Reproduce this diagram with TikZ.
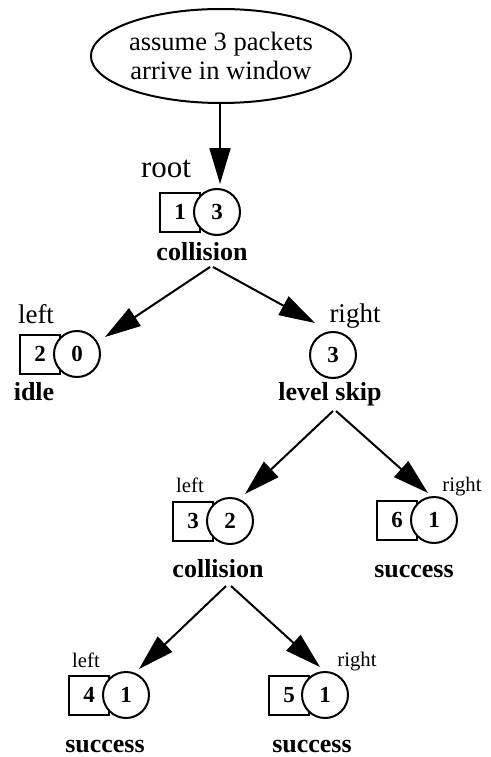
\documentclass[tikz,border=0pt]{standalone}
\usepackage{fontspec}
\setmainfont{Liberation Serif}
\usetikzlibrary{arrows.meta,shapes.geometric}
\newcommand\numfont{\fontsize{23}{23}\selectfont\bfseries}
\newcommand\statefont{\fontsize{26}{26}\selectfont\bfseries}
\newcommand\sidebig{\fontsize{27}{27}\selectfont}
\newcommand\sidesmall{\fontsize{20.7}{20.7}\selectfont}
\begin{document}
\begin{tikzpicture}[x=1pt,y=-1pt,
  every node/.style={inner sep=0pt},
  ring/.style={circle,draw,line width=2pt,fill=white,minimum size=46pt,font=\numfont},
  box/.style={rectangle,draw,line width=2pt,fill=white,minimum width=40pt,minimum height=39pt,font=\numfont},
  statelbl/.style={anchor=base,font=\statefont},
  sidelbl/.style={anchor=base,font=\sidebig},
  sidesm/.style={anchor=base,font=\sidesmall},
  edge/.style={line width=2pt,-{Triangle[length=36pt,width=21pt]}}]
\useasboundingbox (0,0) rectangle (490,757);

% start ellipse
\node[ellipse,draw,line width=2pt,minimum width=255pt,minimum height=94pt,
      align=center,font=\fontsize{26.5}{29}\selectfont] (start) at (221,56)
  {assume 3 packets\\arrive in window};

% root
\node[box] (sq1) at (180,212) {1};
\node[ring] (c1) at (217,212) {3};
\node[sidelbl,font=\fontsize{31}{31}\selectfont] (lroot) at (166,177) {root};
\node[statelbl] (s1) at (202,260) {collision};

% level 1
\node[box] (sq2) at (40,354) {2};
\node[ring] (c2) at (77,354) {0};
\node[sidelbl] (lleft1) at (36,323) {left};
\node[statelbl] (s2) at (34,400) {idle};

\node[ring] (c3) at (333,355) {3};
\node[sidelbl] (lright1) at (355,322) {right};
\node[statelbl] (s3) at (330,400) {level skip};

% level 2
\node[box] (sq4) at (193,521) {3};
\node[ring] (c4) at (230,521) {2};
\node[sidesm] (lleft2) at (190,492) {left};
\node[statelbl] (s4) at (218,577) {collision};

\node[box] (sq5) at (397,520) {6};
\node[ring] (c5) at (434,520) {1};
\node[sidesm] (lright2) at (462,491) {right};
\node[statelbl] (s5) at (414,577) {success};

% level 3
\node[box] (sq6) at (89,695) {4};
\node[ring] (c6) at (126,695) {1};
\node[sidesm] (lleft3) at (86,667) {left};
\node[statelbl] (s6) at (105,752) {success};

\node[box] (sq7) at (289,695) {5};
\node[ring] (c7) at (325,695) {1};
\node[sidesm] (lright3) at (357,666) {right};
\node[statelbl] (s7) at (312,752) {success};

% connector end points
\coordinate (t0) at (220,184);
\coordinate (a1) at (210,267); \coordinate (t1) at (105,337);
\coordinate (a2) at (213,267); \coordinate (t2) at (315,323);
\coordinate (a3) at (333,411); \coordinate (t3) at (245,494);
\coordinate (a4) at (336,411); \coordinate (t4) at (428,493);
\coordinate (a5) at (226,586); \coordinate (t5) at (139,669);
\coordinate (a6) at (231,586); \coordinate (t6) at (320,667);

\draw[edge] (start.south -| t0) -- (t0);
\draw[edge] (a1) -- (t1);
\draw[edge] (a2) -- (t2);
\draw[edge] (a3) -- (t3);
\draw[edge] (a4) -- (t4);
\draw[edge] (a5) -- (t5);
\draw[edge] (a6) -- (t6);
\end{tikzpicture}
\end{document}
